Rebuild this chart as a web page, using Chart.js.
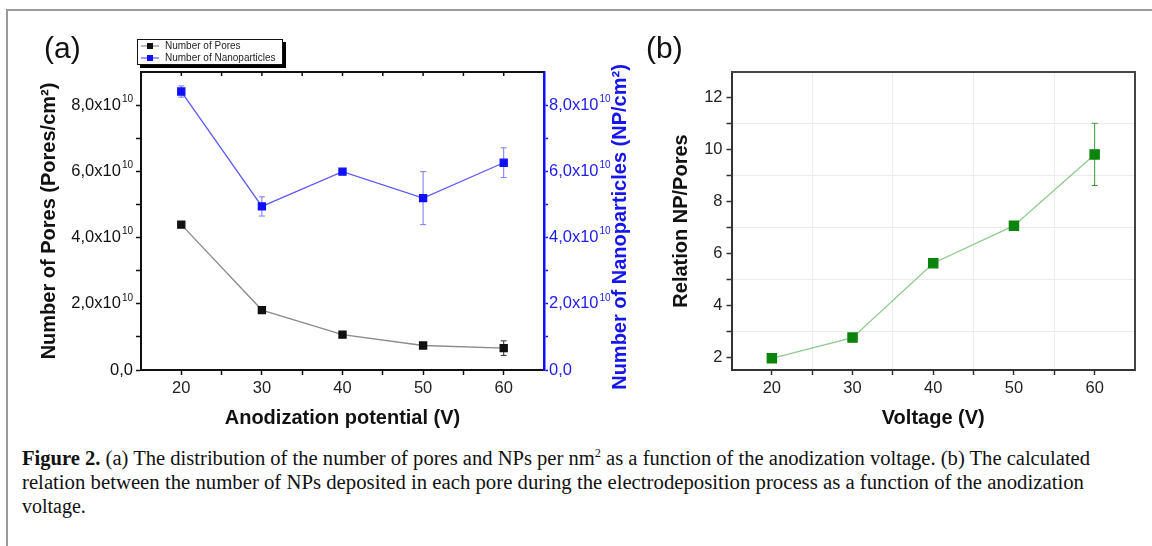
<!DOCTYPE html>
<html>
<head>
<meta charset="utf-8">
<script src="https://cdn.jsdelivr.net/npm/chart.js@4.4.1/dist/chart.umd.min.js"></script>
<style>
  body { margin: 0; width: 1152px; height: 546px; background: #fff; position: relative; overflow: hidden;
         font-family: "Liberation Sans", Arial, sans-serif; }
  #frame { position: absolute; left: 6px; top: 9px; width: 1146px; height: 537px;
           border-left: 2px solid #9a9a9a; border-top: 2px solid #9a9a9a; }
  #wrapA { position: absolute; left: 0; top: 0; width: 660px; height: 440px; }
  #wrapB { position: absolute; left: 600px; top: 0; width: 552px; height: 440px; }
  .panel { position: absolute; font-size: 30px; line-height: 30px; color: #111; }
  #legend { position: absolute; left: 137px; top: 39px; width: 144px; height: 24px; background: #fff;
            border: 1px solid #111; box-shadow: 3px 3px 0 #000; font-size: 10px; line-height: 12px; color: #222; }
  #legend div { height: 12px; white-space: nowrap; }
  #legend svg { vertical-align: -1px; margin: 0 6px 0 3px; }
  #caption { position: absolute; left: 22px; top: 446px; width: 1100px; font-family: "Liberation Serif", serif;
             font-size: 20px; line-height: 24px; color: #111; }
  #caption span { display: block; white-space: nowrap; transform-origin: 0 50%; width: max-content; }
  #caption sup { font-size: 12px; line-height: 0; vertical-align: 8px; }
</style>
</head>
<body>
<div id="frame"></div>
<div id="wrapA"><canvas id="chartA"></canvas></div>
<div id="wrapB"><canvas id="chartB"></canvas></div>
<div class="panel" style="left:44px;top:33px;">(a)</div>
<div class="panel" style="left:646px;top:33px;">(b)</div>
<div id="legend"></div>
<div id="caption"><span data-fit="1068"><b>Figure 2.</b> (a) The distribution of the number of pores and NPs per nm<sup>2</sup> as a function of the anodization voltage. (b) The calculated</span><span data-fit="1062">relation between the number of NPs deposited in each pore during the electrodeposition process as a function of the anodization</span><span data-fit="0">voltage.</span></div>

<script>
// --- data ---
const voltages = [20, 30, 40, 50, 60];
const poreCounts = [4.39e10, 1.81e10, 1.07e10, 0.74e10, 0.66e10];
const poreErrors = [0.08e10, 0.05e10, 0.04e10, 0.04e10, 0.22e10];
const npCounts = [8.41e10, 4.94e10, 5.99e10, 5.19e10, 6.26e10];
const npErrors = [0.17e10, 0.29e10, 0.06e10, 0.8e10, 0.45e10];
const ratioValues = [1.95, 2.75, 5.62, 7.07, 9.82];
const ratioErrors = [0.05, 0.06, 0.15, 0.1, 1.2];

const seriesNames = ["Number of Pores", "Number of Nanoparticles"];
const seriesColors = ["#111111", "#1010ff"];
const seriesLineColors = ["#8a8a8a", "#5a5aff"];

const voltageTicks = [20, 25, 30, 35, 40, 45, 50, 55, 60];
const voltageLabels = [20, 30, 40, 50, 60];
const countTicks = [0, 1e10, 2e10, 3e10, 4e10, 5e10, 6e10, 7e10, 8e10];
const countLabels = [0, 2e10, 4e10, 6e10, 8e10];
const ratioTicks = [2, 3, 4, 5, 6, 7, 8, 9, 10, 11, 12];
const ratioLabels = [2, 4, 6, 8, 10, 12];

const FONT = '"Liberation Sans", Arial, sans-serif';

function pairs(xs, ys) {
  return xs.map((x, i) => ({ x: x, y: ys[i] }));
}
function useTicks(list) {
  return function (scale) { scale.ticks = list.map(v => ({ value: v })); };
}

// caption lines: stretch each one to the width it has in the figure
document.querySelectorAll("#caption span[data-fit]").forEach(el => {
  const target = +el.dataset.fit;
  if (!target) return;
  const w = el.getBoundingClientRect().width;
  el.style.transform = "scaleX(" + (target / w).toFixed(4) + ")";
});

// legend (html)
const legendEl = document.getElementById("legend");
seriesNames.forEach((name, i) => {
  const row = document.createElement("div");
  row.innerHTML =
    '<svg width="18" height="8"><line x1="0" y1="4" x2="18" y2="4" stroke="' + seriesLineColors[i] +
    '" stroke-width="1.2"/><rect x="6" y="1" width="6" height="6" fill="' + seriesColors[i] + '"/></svg>' + name;
  legendEl.appendChild(row);
});

// error bars drawn under the markers
const errorBars = {
  id: "errorBars",
  beforeDatasetsDraw(chart) {
    const ctx = chart.ctx;
    chart.data.datasets.forEach((ds, i) => {
      if (!ds.errors) return;
      const meta = chart.getDatasetMeta(i);
      const xs = chart.scales[meta.xAxisID];
      const ys = chart.scales[meta.yAxisID];
      ctx.save();
      ctx.strokeStyle = ds.errorColor;
      ctx.lineWidth = 1;
      ds.data.forEach((d, j) => {
        const px = xs.getPixelForValue(d.x);
        const top = ys.getPixelForValue(d.y + ds.errors[j]);
        const bot = ys.getPixelForValue(d.y - ds.errors[j]);
        ctx.beginPath();
        ctx.moveTo(px, top); ctx.lineTo(px, bot);
        ctx.moveTo(px - 3, top); ctx.lineTo(px + 3, top);
        ctx.moveTo(px - 3, bot); ctx.lineTo(px + 3, bot);
        ctx.stroke();
      });
      ctx.restore();
    });
  }
};

// panel (a): top axis line with inward ticks, y labels with superscripts, right title
const decorA = {
  id: "decorA",
  afterDraw(chart) {
    const ctx = chart.ctx;
    const area = chart.chartArea;
    const xs = chart.scales.x;
    ctx.save();
    ctx.strokeStyle = "#111";
    ctx.lineWidth = 2;
    ctx.beginPath();
    ctx.moveTo(area.left, area.top); ctx.lineTo(area.right, area.top);
    ctx.stroke();
    ctx.lineWidth = 1.5;
    voltageTicks.forEach(v => {
      const px = xs.getPixelForValue(v);
      ctx.beginPath(); ctx.moveTo(px, area.top); ctx.lineTo(px, area.top + 4); ctx.stroke();
    });

    [["yL", "#111", -1], ["yR", "#2020ee", 1]].forEach(([id, color, side]) => {
      const scale = chart.scales[id];
      ctx.fillStyle = color;
      ctx.textBaseline = "middle";
      ctx.textAlign = "left";
      countLabels.forEach(v => {
        const py = scale.getPixelForValue(v);
        const base = v === 0 ? "0,0" : (v / 1e10).toFixed(1).replace(".", ",") + "x10";
        const sup = v === 0 ? "" : "10";
        ctx.font = "16.5px " + FONT;
        const w1 = ctx.measureText(base).width;
        ctx.font = "10px " + FONT;
        const w2 = sup ? ctx.measureText(sup).width + 1 : 0;
        const x0 = side < 0 ? scale.right - 8 - w1 - w2 : scale.left + 5;
        ctx.font = "16.5px " + FONT;
        ctx.fillText(base, x0, py);
        if (sup) {
          ctx.font = "10px " + FONT;
          ctx.fillText(sup, x0 + w1 + 1, py - 6);
        }
      });
    });

    const yR = chart.scales.yR;
    ctx.translate(yR.left + 76, (area.top + area.bottom) / 2 + 6);
    ctx.rotate(-Math.PI / 2);
    ctx.font = "bold 20px " + FONT;
    ctx.fillStyle = "#1515ee";
    ctx.textAlign = "center";
    ctx.textBaseline = "middle";
    ctx.fillText("Number of Nanoparticles (NP/cm²)", 0, 0);
    ctx.restore();
  }
};

// panel (b): closing frame on top and right
const frameB = {
  id: "frameB",
  afterDraw(chart) {
    const ctx = chart.ctx;
    const a = chart.chartArea;
    ctx.save();
    ctx.strokeStyle = "#444";
    ctx.lineWidth = 2;
    ctx.beginPath();
    ctx.moveTo(a.left, a.top); ctx.lineTo(a.right, a.top); ctx.lineTo(a.right, a.bottom);
    ctx.stroke();
    ctx.restore();
  }
};

const tickFont = { family: FONT, size: 16.5 };
const titleFont = { family: FONT, size: 20, weight: "bold" };

new Chart(document.getElementById("chartA"), {
  type: "line",
  data: {
    datasets: [
      {
        label: seriesNames[0],
        data: pairs(voltages, poreCounts),
        errors: poreErrors,
        errorColor: "#333",
        yAxisID: "yL",
        borderColor: seriesLineColors[0],
        borderWidth: 1.3,
        pointStyle: "rect",
        pointRadius: 5,
        pointBackgroundColor: seriesColors[0],
        pointBorderColor: seriesColors[0],
      },
      {
        label: seriesNames[1],
        data: pairs(voltages, npCounts),
        errors: npErrors,
        errorColor: "#7777ff",
        yAxisID: "yR",
        borderColor: seriesLineColors[1],
        borderWidth: 1.3,
        pointStyle: "rect",
        pointRadius: 5,
        pointBackgroundColor: seriesColors[1],
        pointBorderColor: seriesColors[1],
      },
    ],
  },
  options: {
    responsive: true,
    maintainAspectRatio: false,
    animation: false,
    layout: { padding: { top: 72, left: 0, right: 0, bottom: 0 } },
    plugins: { legend: { display: false }, tooltip: { enabled: false } },
    scales: {
      x: {
        type: "linear", min: 15, max: 65,
        afterBuildTicks: useTicks(voltageTicks),
        afterFit: s => { s.height = 70; },
        border: { color: "#111", width: 2 },
        grid: { drawOnChartArea: false, tickLength: 5, tickColor: "#111", tickWidth: 1.5 },
        ticks: {
          font: tickFont, color: "#222", padding: 4, autoSkip: false, maxRotation: 0,
          callback: v => (voltageLabels.includes(v) ? v : ""),
        },
        title: { display: true, text: "Anodization potential (V)", font: titleFont, color: "#111",
                 padding: { top: 0, bottom: 10 } },
      },
      yL: {
        position: "left", min: 0, max: 9e10,
        afterBuildTicks: useTicks(countTicks),
        afterFit: s => { s.width = 141; },
        border: { color: "#111", width: 2 },
        grid: { drawOnChartArea: false, tickLength: 5, tickColor: "#111", tickWidth: 1.5 },
        ticks: { display: false },
        title: { display: true, text: "Number of Pores (Pores/cm²)", font: titleFont, color: "#111",
                 padding: { top: 37, bottom: 0 } },
      },
      yR: {
        position: "right", min: 0, max: 9e10,
        afterBuildTicks: useTicks(countTicks),
        afterFit: s => { s.width = 116; },
        border: { color: "#1010ff", width: 2.5 },
        grid: { drawOnChartArea: false, tickLength: 4, tickColor: "#1010ff", tickWidth: 1.5 },
        ticks: { display: false },
      },
    },
  },
  plugins: [errorBars, decorA],
});

new Chart(document.getElementById("chartB"), {
  type: "line",
  data: {
    datasets: [
      {
        label: "Relation NP/Pores",
        data: pairs(voltages, ratioValues),
        errors: ratioErrors,
        errorColor: "#3a9a3a",
        borderColor: "#8fcb8f",
        borderWidth: 1.3,
        pointStyle: "rect",
        pointRadius: 6.5,
        pointBackgroundColor: "#0b840b",
        pointBorderColor: "#0b840b",
      },
    ],
  },
  options: {
    responsive: true,
    maintainAspectRatio: false,
    animation: false,
    layout: { padding: { top: 72, left: 0, right: 17, bottom: 0 } },
    plugins: { legend: { display: false }, tooltip: { enabled: false } },
    scales: {
      x: {
        type: "linear", min: 15, max: 65,
        afterBuildTicks: useTicks(voltageTicks),
        afterFit: s => { s.height = 70; },
        border: { color: "#333", width: 2 },
        grid: {
          color: c => (c.tick && c.tick.value % 10 !== 0 ? "#ececec" : "rgba(0,0,0,0)"),
          tickColor: "#333", tickLength: 5, tickWidth: 1.5,
        },
        ticks: {
          font: tickFont, color: "#222", padding: 4, autoSkip: false, maxRotation: 0,
          callback: v => (voltageLabels.includes(v) ? v : ""),
        },
        title: { display: true, text: "Voltage (V)", font: titleFont, color: "#111",
                 padding: { top: 0, bottom: 10 } },
      },
      y: {
        min: 1.5, max: 13,
        afterBuildTicks: useTicks(ratioTicks),
        afterFit: s => { s.width = 131.5; },
        border: { color: "#333", width: 2 },
        grid: {
          color: c => (c.tick && c.tick.value % 2 !== 0 ? "#ececec" : "rgba(0,0,0,0)"),
          tickColor: "#333", tickLength: 5, tickWidth: 1.5,
        },
        ticks: {
          font: tickFont, color: "#222", padding: 4, autoSkip: false,
          callback: v => (ratioLabels.includes(v) ? v : ""),
        },
        title: { display: true, text: "Relation NP/Pores", font: titleFont, color: "#111",
                 padding: { top: 69, bottom: 0 } },
      },
    },
  },
  plugins: [errorBars, frameB],
});
</script>
</body>
</html>
